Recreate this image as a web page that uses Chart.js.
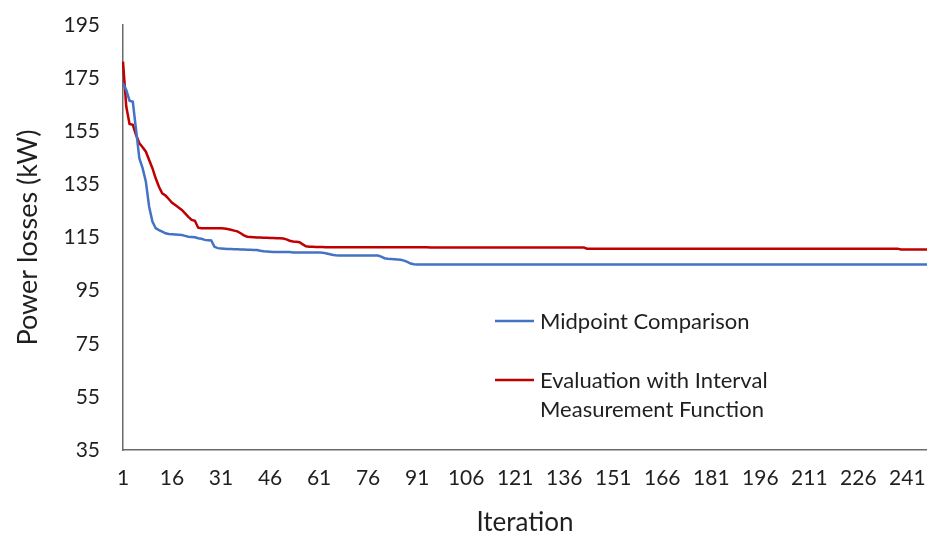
<!DOCTYPE html>
<html>
<head>
<meta charset="utf-8">
<script src="https://cdn.jsdelivr.net/npm/chart.js@4.4.0/dist/chart.umd.min.js"></script>
<style>
  html, body { margin: 0; padding: 0; background: #fff; }
  #wrap { width: 927px; height: 536px; position: relative; }
</style>
</head>
<body>
<div id="wrap"><canvas id="lossChart"></canvas></div>
<script>
// iterations 1..247 on the category axis
const iterations = Array.from({ length: 247 }, (_, i) => i + 1);
const tickLabels = [1, 16, 31, 46, 61, 76, 91, 106, 121, 136, 151, 166, 181, 196, 211, 226, 241];
const seriesNames = ['Midpoint Comparison', 'Evaluation with Interval Measurement Function'];

// Midpoint Comparison (kW), 15 values per row
const midpoint = [
  173.1, 170.5, 166.5, 166.1, 155.5, 144.8, 141.1, 136.0, 126.6, 121.0, 118.5, 117.8, 117.2, 116.6, 116.3,
  116.2, 116.1, 116.0, 115.9, 115.6, 115.3, 115.2, 115.1, 114.7, 114.5, 114.1, 114.0, 113.9, 111.5, 111.0,
  110.9, 110.8, 110.7, 110.7, 110.6, 110.6, 110.5, 110.5, 110.4, 110.4, 110.3, 110.3, 110.0, 109.8, 109.7,
  109.6, 109.5, 109.5, 109.5, 109.5, 109.5, 109.5, 109.4, 109.4, 109.4, 109.4, 109.4, 109.4, 109.4, 109.4,
  109.4, 109.3, 109.1, 108.8, 108.5, 108.3, 108.2, 108.2, 108.2, 108.2, 108.2, 108.2, 108.2, 108.2, 108.2,
  108.2, 108.2, 108.2, 108.2, 107.8, 107.2, 107.0, 106.9, 106.8, 106.7, 106.6, 106.3, 105.8, 105.2, 104.9,
  104.8, 104.8, 104.8, 104.8, 104.8, 104.8, 104.8, 104.8, 104.8, 104.8, 104.8, 104.8, 104.8, 104.8, 104.8,
  104.8, 104.8, 104.8, 104.8, 104.8, 104.8, 104.8, 104.8, 104.8, 104.8, 104.8, 104.8, 104.8, 104.8, 104.8,
  104.8, 104.8, 104.8, 104.8, 104.8, 104.8, 104.8, 104.8, 104.8, 104.8, 104.8, 104.8, 104.8, 104.8, 104.8,
  104.8, 104.8, 104.8, 104.8, 104.8, 104.8, 104.8, 104.8, 104.8, 104.8, 104.8, 104.8, 104.8, 104.8, 104.8,
  104.8, 104.8, 104.8, 104.8, 104.8, 104.8, 104.8, 104.8, 104.8, 104.8, 104.8, 104.8, 104.8, 104.8, 104.8,
  104.8, 104.8, 104.8, 104.8, 104.8, 104.8, 104.8, 104.8, 104.8, 104.8, 104.8, 104.8, 104.8, 104.8, 104.8,
  104.8, 104.8, 104.8, 104.8, 104.8, 104.8, 104.8, 104.8, 104.8, 104.8, 104.8, 104.8, 104.8, 104.8, 104.8,
  104.8, 104.8, 104.8, 104.8, 104.8, 104.8, 104.8, 104.8, 104.8, 104.8, 104.8, 104.8, 104.8, 104.8, 104.8,
  104.8, 104.8, 104.8, 104.8, 104.8, 104.8, 104.8, 104.8, 104.8, 104.8, 104.8, 104.8, 104.8, 104.8, 104.8,
  104.8, 104.8, 104.8, 104.8, 104.8, 104.8, 104.8, 104.8, 104.8, 104.8, 104.8, 104.8, 104.8, 104.8, 104.8,
  104.8, 104.8, 104.8, 104.8, 104.8, 104.8, 104.8
];

// Evaluation with Interval Measurement Function (kW)
const intervalEval = [
  181.2, 164.3, 157.7, 157.4, 153.6, 150.5, 149.0, 147.3, 144.2, 141.1, 137.3, 134.1, 131.6, 130.8, 129.5,
  128.1, 127.2, 126.3, 125.4, 124.1, 122.8, 121.6, 121.3, 118.7, 118.5, 118.5, 118.5, 118.5, 118.5, 118.5,
  118.5, 118.4, 118.2, 117.9, 117.6, 117.3, 116.6, 115.8, 115.3, 115.2, 115.1, 115.0, 115.0, 114.9, 114.9,
  114.8, 114.8, 114.7, 114.7, 114.6, 114.3, 113.8, 113.5, 113.4, 113.2, 112.4, 111.7, 111.5, 111.5, 111.4,
  111.4, 111.4, 111.3, 111.3, 111.3, 111.3, 111.3, 111.3, 111.3, 111.3, 111.3, 111.3, 111.3, 111.3, 111.3,
  111.3, 111.3, 111.3, 111.3, 111.3, 111.3, 111.3, 111.3, 111.3, 111.3, 111.3, 111.3, 111.3, 111.3, 111.3,
  111.3, 111.3, 111.3, 111.3, 111.2, 111.2, 111.2, 111.2, 111.2, 111.2, 111.2, 111.2, 111.2, 111.2, 111.2,
  111.2, 111.2, 111.2, 111.2, 111.2, 111.2, 111.2, 111.2, 111.2, 111.2, 111.2, 111.2, 111.2, 111.2, 111.2,
  111.2, 111.2, 111.2, 111.2, 111.2, 111.2, 111.2, 111.2, 111.2, 111.2, 111.2, 111.2, 111.2, 111.2, 111.2,
  111.2, 111.2, 111.2, 111.2, 111.2, 111.2, 111.2, 110.8, 110.8, 110.8, 110.8, 110.8, 110.8, 110.8, 110.8,
  110.8, 110.8, 110.8, 110.8, 110.8, 110.8, 110.8, 110.8, 110.8, 110.8, 110.8, 110.8, 110.8, 110.8, 110.8,
  110.8, 110.8, 110.8, 110.8, 110.8, 110.8, 110.8, 110.8, 110.8, 110.8, 110.8, 110.8, 110.8, 110.8, 110.8,
  110.8, 110.8, 110.8, 110.8, 110.8, 110.8, 110.8, 110.8, 110.8, 110.8, 110.8, 110.8, 110.8, 110.8, 110.8,
  110.8, 110.8, 110.8, 110.8, 110.8, 110.8, 110.8, 110.8, 110.8, 110.8, 110.8, 110.8, 110.8, 110.8, 110.8,
  110.8, 110.8, 110.8, 110.8, 110.8, 110.8, 110.8, 110.8, 110.8, 110.8, 110.8, 110.8, 110.8, 110.8, 110.8,
  110.8, 110.8, 110.8, 110.8, 110.8, 110.8, 110.8, 110.8, 110.8, 110.8, 110.8, 110.8, 110.8, 110.5, 110.5,
  110.5, 110.5, 110.5, 110.5, 110.5, 110.5, 110.5
];

const FONT = 'Lato, "Open Sans", sans-serif';
const TEXT = '#1f1f1f';

// legend drawn inside the plot, with the long label wrapped like the original
const insideLegend = {
  id: 'insideLegend',
  afterDraw(chart) {
    const ctx = chart.ctx;
    const rowsY = [321, 380];
    ctx.save();
    ctx.font = '22px ' + FONT;
    ctx.textBaseline = 'middle';
    chart.data.datasets.forEach((ds, k) => {
      const y = rowsY[k];
      ctx.strokeStyle = ds.borderColor;
      ctx.lineWidth = 2.5;
      ctx.beginPath();
      ctx.moveTo(495, y);
      ctx.lineTo(534, y);
      ctx.stroke();

      const words = ds.label.split(' ');
      const lines = [];
      let line = '';
      words.forEach(w => {
        const test = line ? line + ' ' + w : w;
        if (line && ctx.measureText(test).width > 260) {
          lines.push(line);
          line = w;
        } else {
          line = test;
        }
      });
      lines.push(line);
      ctx.fillStyle = TEXT;
      lines.forEach((l, j) => ctx.fillText(l, 540, y + 1 + j * 29));
    });
    ctx.restore();
  }
};

new Chart(document.getElementById('lossChart'), {
  type: 'line',
  data: {
    labels: iterations,
    datasets: [
      {
        label: seriesNames[0],
        data: midpoint,
        borderColor: '#4472C4',
        borderWidth: 2.5,
        pointRadius: 0,
        tension: 0
      },
      {
        label: seriesNames[1],
        data: intervalEval,
        borderColor: '#C00000',
        borderWidth: 2.5,
        pointRadius: 0,
        tension: 0
      }
    ]
  },
  options: {
    responsive: true,
    maintainAspectRatio: false,
    animation: false,
    layout: { autoPadding: false, padding: { left: 10, top: 25, right: 0, bottom: 0 } },
    plugins: {
      legend: { display: false },
      tooltip: { enabled: false }
    },
    scales: {
      x: {
        offset: false,
        grid: { display: false, drawTicks: false },
        border: { color: '#6b6b6b', width: 1.5 },
        ticks: {
          autoSkip: false,
          maxRotation: 0,
          minRotation: 0,
          padding: 16,
          color: TEXT,
          font: { family: FONT, size: 21 },
          callback: function (value) {
            const lab = this.getLabelForValue(value);
            return tickLabels.includes(lab) ? String(lab) : '';
          }
        },
        title: {
          display: true,
          text: 'Iteration',
          color: TEXT,
          font: { family: FONT, size: 26, lineHeight: 1 },
          padding: { top: 4, bottom: 0 }
        },
        afterFit: (scale) => {
          scale.height = 86;
          scale.paddingLeft = 0;
          scale.paddingRight = 0;
        }
      },
      y: {
        min: 35,
        max: 195,
        grid: { display: false, drawTicks: false },
        border: { color: '#6b6b6b', width: 1.5 },
        ticks: {
          stepSize: 20,
          padding: 23,
          color: TEXT,
          font: { family: FONT, size: 21 }
        },
        title: {
          display: true,
          text: 'Power losses (kW)',
          color: TEXT,
          font: { family: FONT, size: 27 },
          padding: { top: 2, bottom: 4 }
        },
        afterFit: (scale) => {
          scale.width = 113;
          scale.paddingTop = 0;
          scale.paddingBottom = 0;
        }
      }
    }
  },
  plugins: [insideLegend]
});
</script>
</body>
</html>
